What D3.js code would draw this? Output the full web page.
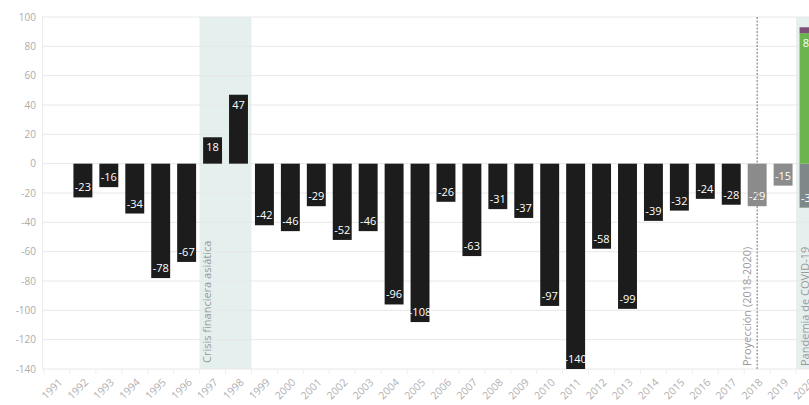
<!DOCTYPE html>
<html><head><meta charset="utf-8">
<script src="https://cdn.jsdelivr.net/npm/d3@7"></script>
<style>
html,body{margin:0;padding:0;background:#fff;overflow:hidden;width:809px;height:405px;}
svg{display:block;font-family:"Open Sans",Lato,sans-serif;}
</style></head><body>
<svg id="c" width="840" height="405"></svg>
<script>
const years = d3.range(1991, 2021).map(String);
const historic = [null,-23,-16,-34,-78,-67,18,47,-42,-46,-29,-52,-46,-96,-108,-26,-63,-31,-37,-97,-140,-58,-99,-39,-32,-24,-28,null,null,null];
const projection = {"2018":-29,"2019":-15,"2020":-30};
const covidGreen = {"2020":89};
const covidPurple = {"2020":4};
const yTicks = [100,80,60,40,20,0,-20,-40,-60,-80,-100,-120,-140];

(function(){
const svg = d3.select("#c");
const mLeft = 42, mTop = 17, mBottom = 369, rightEdge = 840;
const x = d3.scaleBand().domain(years).range([44, 822]).paddingInner(0.27).paddingOuter(0.135);
const y = d3.scaleLinear().domain([-140, 100]).range([mBottom, mTop]);

// shaded bands
svg.append("rect").attr("x", x("1997")-x.step()*x.paddingInner()/2).attr("y", mTop)
  .attr("width", x.step()*2).attr("height", mBottom-mTop).attr("fill", "#e4efee");
svg.append("rect").attr("x", x("2020")-x.step()*x.paddingInner()/2).attr("y", mTop)
  .attr("width", x.step()*2).attr("height", mBottom-mTop).attr("fill", "#e4efee");

// gridlines
svg.append("g").selectAll("line").data(yTicks).join("line")
  .attr("x1", mLeft).attr("x2", rightEdge).attr("y1", d=>y(d)).attr("y2", d=>y(d))
  .attr("stroke", "#e8e8e8").attr("stroke-width", 1);
svg.append("line").attr("x1", mLeft+0.5).attr("x2", mLeft+0.5).attr("y1", mTop).attr("y2", mBottom)
  .attr("stroke", "#ececec");

// y labels
svg.append("g").selectAll("text").data(yTicks).join("text")
  .attr("x", 36).attr("y", d=>y(d)+3.5).attr("text-anchor","end")
  .attr("font-size", 10).attr("fill", "#acacac").text(d=>d);

// x axis
const xAxis = svg.append("g").attr("transform", `translate(0,${mBottom})`)
  .call(d3.axisBottom(x).tickSize(5).tickSizeOuter(0));
xAxis.select(".domain").remove();
xAxis.selectAll(".tick line").attr("stroke","#eeeeee").attr("transform",`translate(${-x.step()/2},0)`);
xAxis.selectAll(".tick text").attr("fill","#b0b0b0").attr("font-size",10.5)
  .attr("font-family",'"Open Sans",Lato,sans-serif')
  .attr("text-anchor","end").attr("dy",0).attr("dx",0).attr("y",0)
  .attr("transform","translate(6,14) rotate(-45)");

// bars
function label(v, xc, yEnd, pos){
  const ty = pos ? yEnd + 14 : yEnd - 6;
  svg.append("text").attr("x", xc).attr("y", ty).attr("text-anchor","middle")
    .attr("font-size", 11).attr("fill", "#fff").text(v);
}
const hist = years.map((yr,i)=>({yr, v:historic[i]})).filter(d=>d.v!==null);
svg.append("g").selectAll("rect").data(hist).join("rect")
  .attr("x", d=>x(d.yr)).attr("width", x.bandwidth())
  .attr("y", d=>y(Math.max(0,d.v))).attr("height", d=>Math.abs(y(d.v)-y(0)))
  .attr("fill", "#1c1c1c");
hist.forEach(d=>label(d.v, x(d.yr)+x.bandwidth()/2, y(d.v), d.v>0));

const proj = Object.entries(projection);
svg.append("g").selectAll("rect").data(proj).join("rect")
  .attr("x", d=>x(d[0])).attr("width", x.bandwidth())
  .attr("y", y(0)).attr("height", d=>y(d[1])-y(0))
  .attr("fill", d=>d[0]==="2020" ? "#7e8888" : "#8c8c8c");
proj.forEach(d=>label(d[1], x(d[0])+x.bandwidth()/2, y(d[1]), false));

Object.entries(covidGreen).forEach(([yr,v])=>{
  svg.append("rect").attr("x", x(yr)).attr("width", x.bandwidth())
    .attr("y", y(v)).attr("height", y(0)-y(v)).attr("fill", "#6cb44e");
  label(v, x(yr)+x.bandwidth()/2, y(v), true);
  const pv = covidPurple[yr];
  svg.append("rect").attr("x", x(yr)).attr("width", x.bandwidth())
    .attr("y", y(v+pv)).attr("height", y(v)-y(v+pv)).attr("fill", "#7a4f78");
});

// projection line
const px = x("2018")+x.bandwidth()/2;
svg.append("line").attr("x1", px).attr("x2", px).attr("y1", mTop).attr("y2", mBottom)
  .attr("stroke", "#8a8a8a").attr("stroke-width", 1.2).attr("stroke-dasharray","2,1.5");

// annotations
function vtext(t, xb, yb){
  svg.append("text").attr("transform", `translate(${xb},${yb}) rotate(-90)`)
    .attr("font-size", 11).attr("fill", "#9a9a9a").text(t);
}
vtext("Crisis financiera asiática", x("1997")+8, 363);
vtext("Proyección (2018-2020)", px-6, 366);
vtext("Pandemia de COVID-19", x("2020")+9, 366);
})();
</script></body></html>
